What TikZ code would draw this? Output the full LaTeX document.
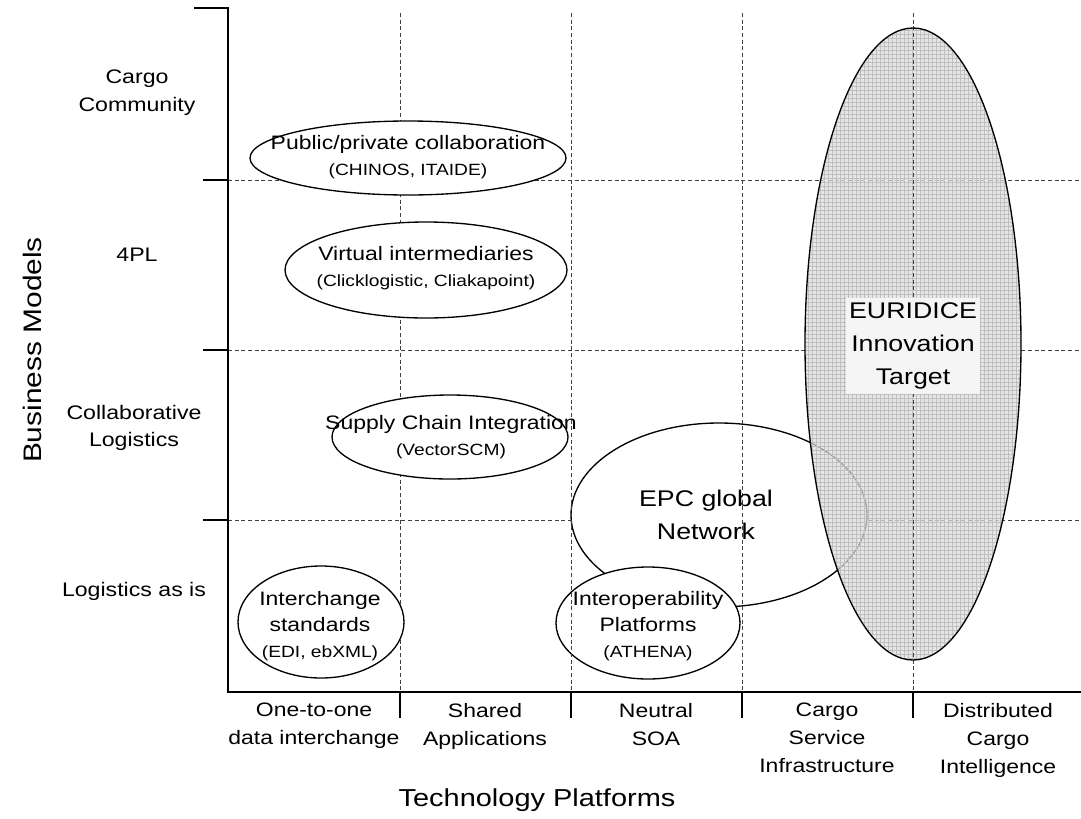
\documentclass[tikz,border=0pt]{standalone}
\usepackage{fontspec}
\setmainfont{Liberation Sans}[FakeStretch=1.18]
\usetikzlibrary{shapes.geometric,patterns}
\newcommand{\smallfnt}{\fontsize{12.2}{19.5}\selectfont}
\begin{document}
\begin{tikzpicture}[x=0.75pt,y=-0.75pt,
  axisline/.style={line width=1.3pt},
  gridline/.style={dash pattern=on 3pt off 2pt, line width=0.6pt, black!75},
  oval/.style={ellipse, draw, line width=1pt, fill=white, inner sep=0pt},
  ovaltext/.style={align=center, inner sep=0pt, font=\fontsize{14.6}{19.5}\selectfont},
  bigtext/.style={align=center, inner sep=0pt, font=\fontsize{17}{24.75}\selectfont},
  ylab/.style={align=center, inner sep=0pt, font=\fontsize{14.7}{20.8}\selectfont},
  xlab/.style={align=center, anchor=north, inner sep=0pt, font=\fontsize{14.6}{21}\selectfont}]
\useasboundingbox (0,0) rectangle (1081,818);

% horizontal grid lines
\foreach \y in {180,350,520} \draw[gridline] (228,\y) -- (1081,\y);

% EPC and Interoperability ellipses (below the vertical lines)
\node[oval, minimum width=222pt, minimum height=138pt] (epc) at (719,515) {};
\node[oval, minimum width=138pt, minimum height=84pt] (interop) at (648,623) {};

% EURIDICE shaded ellipse
\fill[gray!27, fill opacity=0.72] (913,344) ellipse [x radius=108, y radius=316];
\fill[pattern=grid, pattern color=gray!50, fill opacity=0.35] (913,344) ellipse [x radius=108, y radius=316];

% vertical grid lines
\foreach \x in {400,571,742,913} \draw[gridline] (\x,13) -- (\x,692);

\draw[line width=1pt] (913,344) ellipse [x radius=108, y radius=316];

% upper ellipses
\node[oval, minimum width=237pt, minimum height=55.5pt] (pub) at (408,158) {};
\node[oval, minimum width=211.5pt, minimum height=72pt] (virt) at (426,270) {};
\node[oval, minimum width=177pt, minimum height=63pt] (supply) at (450,437) {};
\node[oval, minimum width=124.5pt, minimum height=84pt] (inter) at (321,622) {};

% ellipse texts
\node[ovaltext] (pubt) at (408,157) {Public/private collaboration\\{\smallfnt (CHINOS, ITAIDE)}};
\node[ovaltext] (virtt) at (426,268) {Virtual intermediaries\\{\smallfnt (Clicklogistic, Cliakapoint)}};
\node[ovaltext] (supplyt) at (451,437) {Supply Chain Integration\\{\smallfnt (VectorSCM)}};
\node[ovaltext] (intert) at (320,626) {Interchange\\standards\\{\smallfnt (EDI, ebXML)}};
\node[ovaltext] (interopt) at (648,626) {Interoperability\\Platforms\\{\smallfnt (ATHENA)}};
\node[bigtext] (epct) at (706,515) {EPC global\\Network};

% EURIDICE label
\node[bigtext, fill=gray!8, minimum width=100.5pt, minimum height=72pt] (eurt) at (913,346) {EURIDICE\\Innovation\\Target};

% axes
\draw[axisline] (194,8) -- (228,8) -- (228,692) -- (1081,692);
\foreach \y in {180,350,520} \draw[axisline] (203,\y) -- (228,\y);
\foreach \x in {400,571,742,913} \draw[axisline] (\x,692) -- (\x,718);

% y labels
\node[ylab] (ycc) at (137,93) {Cargo\\Community};
\node[ylab] (y4pl) at (137,255) {4PL};
\node[ylab] (ycl) at (134,428) {Collaborative\\Logistics};
\node[ylab] (ylai) at (134,591) {Logistics as is};
\node[inner sep=0pt, rotate=90, font=\fontsize{19}{23}\selectfont] (ytitle) at (32,350) {Business Models};

% x labels
\node[xlab] (x1) at (314,703) {One-to-one\\data interchange};
\node[xlab] (x2) at (485,703) {Shared\\Applications};
\node[xlab] (x3) at (656,703) {Neutral\\SOA};
\node[xlab] (x4) at (827,703) {Cargo\\Service\\Infrastructure};
\node[xlab] (x5) at (998,703) {Distributed\\Cargo\\Intelligence};
\node[inner sep=0pt, font=\fontsize{18.4}{23}\selectfont] (xtitle) at (537,800) {Technology Platforms};
\end{tikzpicture}
\end{document}
